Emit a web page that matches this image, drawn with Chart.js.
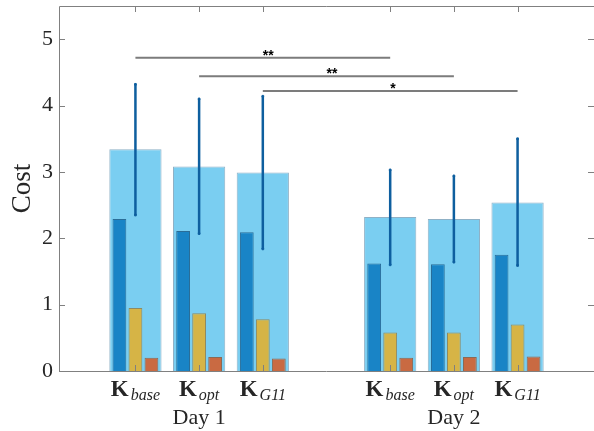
<!DOCTYPE html>
<html>
<head>
<meta charset="utf-8">
<script src="https://cdn.jsdelivr.net/npm/chart.js@4.4.0/dist/chart.umd.min.js"></script>
<style>
  html, body { margin: 0; padding: 0; background: #fff; overflow: hidden; }
  #wrap { width: 594px; height: 431px; position: relative; }
</style>
</head>
<body>
<div id="wrap"><canvas id="costChart"></canvas></div>
<script>
// bar positions on the x axis (as in the original bar(x, ...) call)
const xPos = [1, 2, 3, 5, 6, 7];
const gainSub = ['base', 'opt', 'G11', 'base', 'opt', 'G11'];
const dayLabels = ['Day 1', 'Day 2'];
const dayGroups = [[1, 2, 3], [5, 6, 7]];

// total cost (wide bars) with error bars
const totalCost = [3.34, 3.08, 2.99, 2.32, 2.29, 2.54];
const errLow = [2.35, 2.07, 1.84, 1.60, 1.64, 1.59];
const errHigh = [4.32, 4.10, 4.14, 3.03, 2.94, 3.50];

// cost components (narrow bars)
const costA = [2.29, 2.11, 2.09, 1.62, 1.61, 1.75];
const costB = [0.95, 0.87, 0.78, 0.58, 0.58, 0.70];
const costC = [0.20, 0.21, 0.19, 0.20, 0.21, 0.22];

// significance brackets
const sigFrom = [1, 2, 3];
const sigTo = [5, 6, 7];
const sigLevel = [4.72, 4.44, 4.22];
const sigText = ['**', '**', '*'];

const axisColor = '#808080';
const textColor = '#262626';
const serif = '"Liberation Serif", "Times New Roman", serif';

function points(vals) {
    return xPos.map((x, i) => ({ x: x, y: vals[i] }));
}

// error bars as broken line segments
const errData = [];
xPos.forEach((x, i) => {
    errData.push({ x: x, y: errLow[i] }, { x: x, y: errHigh[i] }, { x: x, y: null });
});
const sigData = [];
sigFrom.forEach((f, i) => {
    sigData.push({ x: f, y: sigLevel[i] }, { x: sigTo[i], y: sigLevel[i] }, { x: f, y: null });
});

// ticks pointing inwards, box, labels - MATLAB look
const matlabAxes = {
    id: 'matlabAxes',
    afterDatasetsDraw(chart) {
        const { ctx, chartArea: a, scales: { x, y } } = chart;
        ctx.save();
        ctx.strokeStyle = axisColor;
        ctx.lineWidth = 1;
        ctx.beginPath();
        ctx.moveTo(a.left + 0.5, a.bottom + 0.5);
        ctx.lineTo(a.left + 0.5, a.top + 0.5);
        ctx.lineTo(a.right, a.top + 0.5);
        ctx.moveTo(a.left, a.bottom + 0.5);
        ctx.lineTo(a.right, a.bottom + 0.5);
        const tl = 6;
        xPos.forEach(v => {
            const px = Math.round(x.getPixelForValue(v)) + 0.5;
            ctx.moveTo(px, a.bottom);
            ctx.lineTo(px, a.bottom - tl);
            ctx.moveTo(px, a.top);
            ctx.lineTo(px, a.top + tl);
        });
        y.ticks.forEach(t => {
            const py = Math.round(y.getPixelForValue(t.value)) + 0.5;
            ctx.moveTo(a.left, py);
            ctx.lineTo(a.left + tl, py);
            ctx.moveTo(a.right, py);
            ctx.lineTo(a.right - tl, py);
        });
        ctx.stroke();

        // stars above the brackets
        ctx.fillStyle = '#000';
        ctx.font = 'bold 14px "Liberation Sans", Arial, sans-serif';
        ctx.textAlign = 'left';
        ctx.textBaseline = 'alphabetic';
        sigText.forEach((s, i) => {
            const mid = (x.getPixelForValue(sigFrom[i]) + x.getPixelForValue(sigTo[i])) / 2;
            ctx.fillText(s, mid, y.getPixelForValue(sigLevel[i]) + 2);
        });
        ctx.restore();
    },
    afterDraw(chart) {
        const { ctx, scales: { x } } = chart;
        ctx.save();
        ctx.fillStyle = textColor;
        ctx.textBaseline = 'alphabetic';
        ctx.textAlign = 'left';
        const mainFont = 'bold 23px ' + serif;
        const subFont = 'italic 16px ' + serif;
        xPos.forEach((v, i) => {
            ctx.font = mainFont;
            const wK = ctx.measureText('K').width + 2;
            ctx.font = subFont;
            const wS = ctx.measureText(gainSub[i]).width;
            const start = x.getPixelForValue(v) - (wK + wS) / 2;
            ctx.font = mainFont;
            ctx.fillText('K', start, 396);
            ctx.font = subFont;
            ctx.fillText(gainSub[i], start + wK, 400);
        });
        ctx.font = '22px ' + serif;
        ctx.textAlign = 'center';
        dayLabels.forEach((d, i) => {
            const g = dayGroups[i];
            const cx = g.reduce((s, v) => s + x.getPixelForValue(v), 0) / g.length;
            ctx.fillText(d, cx, 424);
        });
        ctx.restore();
    }
};

const ctx = document.getElementById('costChart').getContext('2d');
new Chart(ctx, {
    type: 'bar',
    data: {
        datasets: [
            {
                type: 'line',
                data: errData,
                borderColor: '#0e5f9f',
                backgroundColor: '#0e5f9f',
                borderWidth: 2.5,
                pointStyle: 'rect',
                pointRadius: 1.2,
                pointBorderWidth: 1,
                spanGaps: false
            },
            {
                type: 'line',
                data: sigData,
                borderColor: '#7c7c7c',
                borderWidth: 2,
                pointRadius: 0,
                spanGaps: false
            },
            {
                data: points(costA),
                backgroundColor: '#1984c6',
                borderColor: '#2a6d98',
                borderWidth: 1,
                categoryPercentage: 0.754,
                barPercentage: 0.86
            },
            {
                data: points(costB),
                backgroundColor: '#d6b446',
                borderColor: '#8e8a62',
                borderWidth: 1,
                categoryPercentage: 0.754,
                barPercentage: 0.86
            },
            {
                data: points(costC),
                backgroundColor: '#c96a42',
                borderColor: '#8b6a55',
                borderWidth: 1,
                categoryPercentage: 0.754,
                barPercentage: 0.86
            },
            {
                data: points(totalCost),
                backgroundColor: '#7acef1',
                borderColor: '#8fb1c6',
                borderWidth: 1,
                grouped: false,
                categoryPercentage: 1,
                barPercentage: 0.82
            }
        ]
    },
    options: {
        responsive: true,
        maintainAspectRatio: false,
        animation: false,
        layout: { autoPadding: false, padding: { left: 0, top: 6, right: 0, bottom: 60 } },
        scales: {
            x: {
                type: 'linear',
                min: -0.2,
                max: 8.2,
                offset: false,
                display: false,
                ticks: { stepSize: 1, includeBounds: false }
            },
            y: {
                min: 0,
                max: 5.5,
                grid: { display: false, drawTicks: false },
                border: { display: false },
                ticks: {
                    stepSize: 1,
                    includeBounds: false,
                    padding: 6,
                    color: textColor,
                    font: { family: serif, size: 22 }
                },
                title: {
                    display: true,
                    text: 'Cost',
                    color: textColor,
                    font: { family: serif, size: 27 },
                    padding: { top: 7, bottom: 0 }
                },
                afterFit(scale) {
                    scale.width = 59;
                    scale.paddingTop = 0;
                    scale.paddingBottom = 0;
                }
            }
        },
        plugins: {
            legend: { display: false },
            tooltip: { enabled: false }
        }
    },
    plugins: [matlabAxes]
});
</script>
</body>
</html>
